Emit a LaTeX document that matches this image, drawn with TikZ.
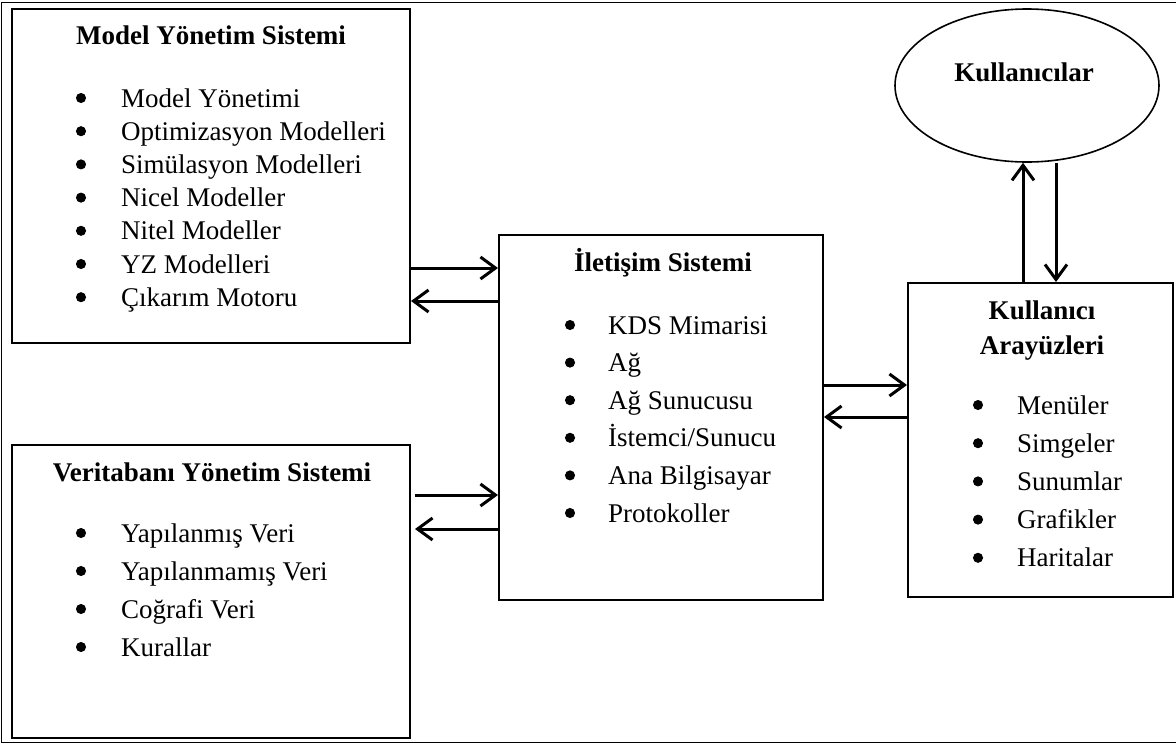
\documentclass[tikz,border=0pt]{standalone}
\usepackage{fontspec}
\setmainfont{Liberation Serif}
\usetikzlibrary{arrows.meta,shapes.geometric}

\begin{document}
\begin{tikzpicture}[x=1pt,y=-1pt,
    box/.style={draw,line width=2pt,inner sep=0pt},
    flow/.style={line width=3pt,-{Straight Barb[length=15pt,width=22pt]}},
    head/.style={font=\fontsize{27}{32}\selectfont\bfseries,anchor=base,inner sep=0pt},
    item/.style={font=\fontsize{27}{32}\selectfont,anchor=base west,inner sep=0pt},
    dot/.style={circle,draw=black,fill=black,line width=1pt,inner sep=0pt,minimum size=9pt}]
    \useasboundingbox (0,0) rectangle (1176,745);
    \draw[line width=1pt] (1,2) rectangle (1177,742);

    % the four boxes and the users
    \node[box,minimum width=398pt,minimum height=334pt] (mys) at (211,176) {};
    \node[box,minimum width=398pt,minimum height=293pt] (vys) at (211,591.5) {};
    \node[box,minimum width=324pt,minimum height=365pt] (com) at (661,417.5) {};
    \node[box,minimum width=265pt,minimum height=314pt] (ui) at (1040.5,440) {};
    \node[ellipse,draw,line width=1.6pt,inner sep=0pt,minimum width=264pt,minimum height=153pt] (usr) at (1027,85.5) {};

    \node[head] (mys-t) at (211,44) {Model Yönetim Sistemi};
    \node[head] (vys-t) at (212,481) {Veritabanı Yönetim Sistemi};
    \node[head] (com-t) at (663,271) {İletişim Sistemi};
    \node[head] (ui-t) at (1042,319) {Kullanıcı};
    \node[head] (ui-t2) at (1042,354) {Arayüzleri};
    \node[head] (usr-t) at (1024,81) {Kullanıcılar};

    % bullet lists
    \foreach \t [count=\i] in {Model Yönetimi,Optimizasyon Modelleri,Simülasyon Modelleri,Nicel Modeller,Nitel Modeller,YZ Modelleri,Çıkarım Motoru}{
        \node[dot] (mys-b\i) at (81,{98+33.2*(\i-1)}) {};
        \node[item] (mys-\i) at (121,{107+33.2*(\i-1)}) {\t};
    }
    \foreach \t [count=\i] in {Yapılanmış Veri,Yapılanmamış Veri,Coğrafi Veri,Kurallar}{
        \node[dot] (vys-b\i) at (81,{533+38*(\i-1)}) {};
        \node[item] (vys-\i) at (121,{542+38*(\i-1)}) {\t};
    }
    \foreach \t [count=\i] in {KDS Mimarisi,Ağ,Ağ Sunucusu,İstemci/Sunucu,Ana Bilgisayar,Protokoller}{
        \node[dot] (com-b\i) at (570,{325+37.6*(\i-1)}) {};
        \node[item] (com-\i) at (608,{334+37.6*(\i-1)}) {\t};
    }
    \foreach \t [count=\i] in {Menüler,Simgeler,Sunumlar,Grafikler,Haritalar}{
        \node[dot] (ui-b\i) at (978,{405+38.2*(\i-1)}) {};
        \node[item] (ui-\i) at (1017,{414+38.2*(\i-1)}) {\t};
    }

    % connectors
    \draw[flow] (mys.east |- 0,268) -- (com.west |- 0,268);
    \draw[flow] (com.west |- 0,301) -- (mys.east |- 0,301);
    \draw[flow,shorten <=4pt] (vys.east |- 0,495) -- (com.west |- 0,495);
    \draw[flow,shorten >=4pt] (com.west |- 0,529) -- (vys.east |- 0,529);
    \draw[flow] (com.east |- 0,385) -- (ui.west |- 0,385);
    \draw[flow] (ui.west |- 0,417) -- (com.east |- 0,417);
    \draw[flow] (ui.north -| 1023,0) -- (usr.south -| 1023,0);
    \draw[flow] (usr.south -| 1056,0) -- (ui.north -| 1056,0);
\end{tikzpicture}
\end{document}
